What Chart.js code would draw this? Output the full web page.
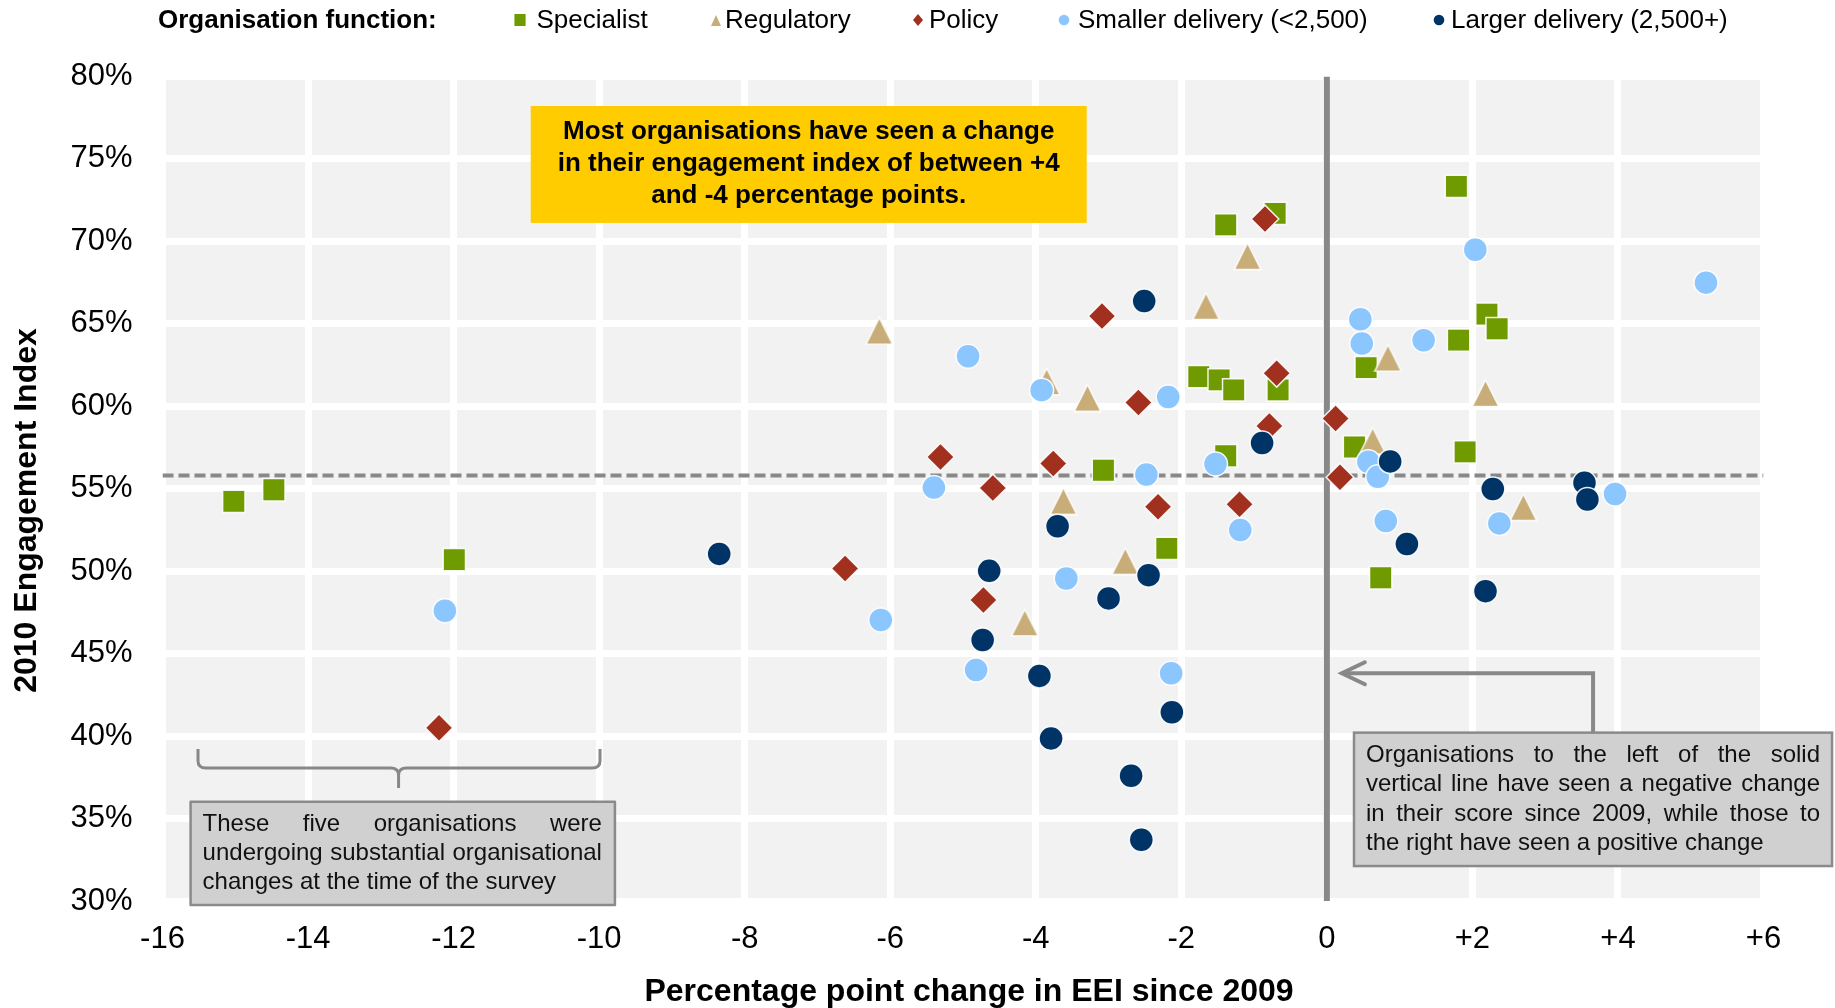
<!DOCTYPE html>
<html>
<head>
<meta charset="utf-8">
<title>2010 Engagement Index vs change since 2009</title>
<script src="https://cdn.jsdelivr.net/npm/chart.js@4.4.1/dist/chart.umd.min.js"></script>
<style>
  html, body { margin: 0; padding: 0; background: #ffffff; }
  canvas { display: block; }
</style>
</head>
<body>
<canvas id="chart" width="1835" height="1008"></canvas>
<script>
// Each organisation: [percentage point change since 2009, 2010 engagement index %]
const specialist = [
  [-15.02, 54.23], [-14.47, 54.94], [-11.99, 50.7], [-1.39, 71.0], [-0.71, 71.7],
  [1.78, 73.34], [-1.76, 61.8], [-1.48, 61.6], [-1.28, 61.0], [-0.67, 61.0],
  [-3.07, 56.12], [-2.2, 51.38], [-1.39, 57.0], [0.38, 57.53], [0.54, 62.35],
  [1.9, 57.24], [2.2, 65.59], [2.34, 64.7], [1.81, 64.01], [0.74, 49.6]
];
const regulatory = [
  [-6.15, 64.57], [-3.85, 61.5], [-3.29, 60.5], [-1.66, 66.07], [-1.09, 69.1],
  [-3.62, 54.25], [-2.77, 50.61], [-4.15, 46.88], [0.84, 62.93], [0.63, 57.9],
  [2.18, 60.79], [2.7, 53.88]
];
const policy = [
  [-3.09, 65.47], [-0.85, 71.36], [-0.69, 62.0], [-2.59, 60.23], [-5.31, 56.93],
  [-3.76, 56.53], [-4.59, 55.05], [-2.32, 53.91], [-1.2, 54.06], [-0.79, 58.8],
  [0.12, 59.26], [0.18, 55.7], [-6.62, 50.16], [-4.72, 48.25], [-12.2, 40.5]
];
const smallerDelivery = [
  [-12.12, 47.6], [-4.93, 63.04], [-3.92, 60.98], [-2.18, 60.56], [-5.4, 55.07],
  [-2.48, 55.86], [-1.53, 56.5], [-1.19, 52.5], [-3.58, 49.56], [-6.13, 47.04],
  [-4.82, 44.01], [-2.14, 43.81], [2.04, 69.49], [5.21, 67.5], [0.46, 65.28],
  [0.48, 63.81], [1.33, 64.01], [0.57, 56.64], [0.7, 55.73], [0.81, 53.04],
  [2.37, 52.9], [3.96, 54.68]
];
const largerDelivery = [
  [-2.51, 66.38], [-0.89, 57.77], [0.87, 56.66], [1.1, 51.65], [2.28, 54.98],
  [3.54, 55.36], [3.58, 54.35], [2.18, 48.79], [-8.35, 51.05], [-3.7, 52.73],
  [-4.64, 50.02], [-2.45, 49.76], [-3.0, 48.35], [-4.73, 45.83], [-3.95, 43.65],
  [-2.13, 41.45], [-3.79, 39.86], [-2.69, 37.6], [-2.55, 33.71]
];

// Civil Service benchmark (dashed line) and axis ranges
const benchmark = 55.8;
const xRange = [-16, 6];
const yRange = [30, 80];

// Text blocks
const legendTitle = 'Organisation function:';
const seriesNames = ['Specialist', 'Regulatory', 'Policy', 'Smaller delivery (<2,500)', 'Larger delivery (2,500+)'];
const xTitle = 'Percentage point change in EEI since 2009';
const yTitle = '2010 Engagement Index';
const calloutLines = [
  'Most organisations have seen a change',
  'in their engagement index of between +4',
  'and -4 percentage points.'
];
const leftNoteLines = [
  'These five organisations were',
  'undergoing substantial organisational',
  'changes at the time of the survey'
];
const rightNoteLines = [
  'Organisations to the left of the solid',
  'vertical line have seen a negative change',
  'in their score since 2009, while those to',
  'the right have seen a positive change'
];

const FAMILY = "'Liberation Sans', Arial, Helvetica, sans-serif";
const COLORS = {
  specialist: '#6f9a00',
  regulatory: '#c8ad78',
  policy: '#a2301f',
  smaller: '#8cc6ff',
  larger: '#003366',
  refLine: '#888888',
  plotBg: '#f2f2f2',
  callout: '#ffcc00',
  noteFill: '#d0d0d0',
  noteStroke: '#8a8a8a'
};

// Isosceles triangle marker, centred in its own box
function triangleMarker(size, fill, stroke, lw) {
  const c = document.createElement('canvas');
  c.width = size; c.height = size;
  const g = c.getContext('2d');
  const p = lw / 2 + 0.5;
  g.beginPath();
  g.moveTo(size / 2, p);
  g.lineTo(size - p, size - p);
  g.lineTo(p, size - p);
  g.closePath();
  g.fillStyle = fill;
  g.fill();
  if (lw > 0) { g.strokeStyle = stroke; g.lineWidth = lw; g.stroke(); }
  return c;
}

const MARKER_EDGE = 'rgba(255,255,255,0.9)';
const triangleStyle = triangleMarker(29, COLORS.regulatory, MARKER_EDGE, 1.5);

function scatterSet(label, pts, color, style, radius, order) {
  return {
    type: 'scatter',
    label,
    data: pts.map(([x, y]) => ({ x, y })),
    pointStyle: style,
    pointRadius: radius,
    pointHoverRadius: radius,
    backgroundColor: color,
    borderColor: MARKER_EDGE,
    borderWidth: 1.5,
    order
  };
}

const datasets = [
  scatterSet(seriesNames[0], specialist, COLORS.specialist, 'rect', 15.8, 5),
  scatterSet(seriesNames[1], regulatory, COLORS.regulatory, triangleStyle, 14.5, 4),
  scatterSet(seriesNames[2], policy, COLORS.policy, 'rectRot', 13.8, 3),
  scatterSet(seriesNames[3], smallerDelivery, COLORS.smaller, 'circle', 12, 2),
  scatterSet(seriesNames[4], largerDelivery, COLORS.larger, 'circle', 12, 1),
  {
    type: 'line', label: 'zero change',
    data: [{ x: 0, y: yRange[0] }, { x: 0, y: yRange[1] }],
    borderColor: COLORS.refLine, borderWidth: 6, pointRadius: 0, fill: false, order: 10
  },
  {
    type: 'line', label: 'benchmark',
    data: [{ x: xRange[0], y: benchmark }, { x: xRange[1], y: benchmark }],
    borderColor: COLORS.refLine, borderWidth: 4, borderDash: [11, 5],
    pointRadius: 0, fill: false, order: 10
  }
];

// Grey plot background behind the white grid
const plotBackground = {
  id: 'plotBackground',
  beforeDraw(chart) {
    const { ctx, chartArea: a } = chart;
    ctx.save();
    ctx.fillStyle = '#ffffff';
    ctx.fillRect(0, 0, chart.width, chart.height);
    ctx.fillStyle = COLORS.plotBg;
    ctx.fillRect(a.left, a.top, a.right - a.left, a.bottom - a.top);
    ctx.restore();
  }
};

function drawJustified(ctx, text, x0, x1, y, justify) {
  if (!justify) { ctx.textAlign = 'left'; ctx.fillText(text, x0, y); return; }
  const words = text.split(' ');
  const widths = words.map(w => ctx.measureText(w).width);
  const total = widths.reduce((s, w) => s + w, 0);
  const gap = (x1 - x0 - total) / (words.length - 1);
  let x = x0;
  ctx.textAlign = 'left';
  words.forEach((w, i) => { ctx.fillText(w, x, y); x += widths[i] + gap; });
}

function noteBox(ctx, l, t, r, b, lines, lineH, padL, padR) {
  ctx.fillStyle = COLORS.noteFill;
  ctx.fillRect(l, t, r - l, b - t);
  ctx.strokeStyle = COLORS.noteStroke;
  ctx.lineWidth = 2.5;
  ctx.strokeRect(l, t, r - l, b - t);
  ctx.fillStyle = '#111111';
  ctx.font = '24px ' + FAMILY;
  ctx.textBaseline = 'middle';
  const cy = (t + b) / 2;
  const y0 = cy - (lines.length - 1) * lineH / 2;
  lines.forEach((s, i) => drawJustified(ctx, s, l + padL, r - padR, y0 + i * lineH, i < lines.length - 1));
}

// Legend, axis titles and notes
const chartDecor = {
  id: 'chartDecor',
  afterDraw(chart) {
    const { ctx, scales: { x, y } } = chart;
    const X = v => x.getPixelForValue(v);
    const Y = v => y.getPixelForValue(v);
    ctx.save();

    // Legend row
    ctx.textBaseline = 'middle';
    ctx.fillStyle = '#000000';
    ctx.font = 'bold 26px ' + FAMILY;
    ctx.textAlign = 'left';
    ctx.fillText(legendTitle, 158, 20.5);
    ctx.font = '26px ' + FAMILY;
    const legendItems = [
      { marker: 520, text: 536.5, color: COLORS.specialist, shape: 'square' },
      { marker: 716, text: 725, color: COLORS.regulatory, shape: 'triangle' },
      { marker: 918, text: 929, color: COLORS.policy, shape: 'diamond' },
      { marker: 1064, text: 1078, color: COLORS.smaller, shape: 'circle' },
      { marker: 1439, text: 1451, color: COLORS.larger, shape: 'circle' }
    ];
    legendItems.forEach((it, i) => {
      const cy = 20;
      ctx.fillStyle = it.color;
      ctx.beginPath();
      if (it.shape === 'square') ctx.rect(it.marker - 5.6, cy - 6, 11.2, 12);
      else if (it.shape === 'triangle') { ctx.moveTo(it.marker, cy - 5); ctx.lineTo(it.marker + 5, cy + 6); ctx.lineTo(it.marker - 5, cy + 6); ctx.closePath(); }
      else if (it.shape === 'diamond') { ctx.moveTo(it.marker, cy - 6); ctx.lineTo(it.marker + 5, cy); ctx.lineTo(it.marker, cy + 6); ctx.lineTo(it.marker - 5, cy); ctx.closePath(); }
      else ctx.arc(it.marker, cy, 5.3, 0, Math.PI * 2);
      ctx.fill();
      ctx.fillStyle = '#000000';
      ctx.fillText(seriesNames[i], it.text, 20.5);
    });

    // Axis titles
    ctx.font = 'bold 32px ' + FAMILY;
    ctx.textAlign = 'center';
    ctx.fillText(xTitle, 969, 992);
    ctx.save();
    ctx.translate(27.5, 510.5);
    ctx.rotate(-Math.PI / 2);
    ctx.fillText(yTitle, 0, 0);
    ctx.restore();

    // Yellow callout
    const cl = X(-10.94), cr = X(-3.30), ct = Y(78.21), cb = Y(71.12);
    ctx.fillStyle = COLORS.callout;
    ctx.fillRect(cl, ct, cr - cl, cb - ct);
    ctx.fillStyle = '#000000';
    ctx.font = 'bold 26px ' + FAMILY;
    ctx.textAlign = 'center';
    const ccx = (cl + cr) / 2, ccy = (ct + cb) / 2 - 0.5;
    calloutLines.forEach((s, i) => ctx.fillText(s, ccx, ccy + (i - 1) * 31.7));

    // Brace over the five outlying organisations
    const bl = X(-15.512), br = X(-9.988), bm = X(-12.756);
    const bt = Y(39.22), bh = Y(38.07), bc = Y(36.86);
    ctx.strokeStyle = COLORS.refLine;
    ctx.lineWidth = 3;
    ctx.lineJoin = 'round';
    ctx.beginPath();
    ctx.moveTo(bl, bt);
    ctx.lineTo(bl, bh - 7);
    ctx.quadraticCurveTo(bl, bh, bl + 8, bh);
    ctx.lineTo(bm - 8, bh);
    ctx.quadraticCurveTo(bm, bh, bm, bh + 7);
    ctx.lineTo(bm, bc);
    ctx.moveTo(bm, bh + 7);
    ctx.quadraticCurveTo(bm, bh, bm + 8, bh);
    ctx.lineTo(br - 8, bh);
    ctx.quadraticCurveTo(br, bh, br, bh - 7);
    ctx.lineTo(br, bt);
    ctx.stroke();

    // Left note
    noteBox(ctx, X(-15.614), Y(36.02), X(-9.783), Y(29.76), leftNoteLines, 28.7, 12, 13);

    // Elbow arrow pointing at the zero line
    const ax = X(3.658), ay0 = Y(40.21), ay = Y(43.81), tipX = X(0.206);
    ctx.strokeStyle = COLORS.refLine;
    ctx.lineWidth = 4;
    ctx.lineJoin = 'miter';
    ctx.lineCap = 'butt';
    ctx.beginPath();
    ctx.moveTo(ax, ay0);
    ctx.lineTo(ax, ay);
    ctx.lineTo(tipX + 2, ay);
    ctx.stroke();
    ctx.lineCap = 'round';
    ctx.beginPath();
    ctx.moveTo(tipX + 23, ay - 11);
    ctx.lineTo(tipX, ay);
    ctx.lineTo(tipX + 23, ay + 11);
    ctx.stroke();

    // Right note
    noteBox(ctx, X(0.373), Y(40.21), X(6.942), Y(32.12), rightNoteLines, 29.1, 12, 12);

    ctx.restore();
  }
};

new Chart(document.getElementById('chart'), {
  type: 'scatter',
  data: { datasets },
  options: {
    responsive: false,
    animation: false,
    events: [],
    layout: { padding: { top: 76.5, right: 71.5, bottom: 0, left: 0 } },
    plugins: {
      legend: { display: false },
      tooltip: { enabled: false },
      title: { display: false }
    },
    scales: {
      x: {
        type: 'linear',
        min: xRange[0], max: xRange[1],
        grid: { color: '#ffffff', lineWidth: 7, drawTicks: false },
        border: { display: false },
        ticks: {
          stepSize: 2,
          padding: 20,
          color: '#000000',
          font: { family: FAMILY, size: 31 },
          callback: v => (v > 0 ? '+' + v : String(v))
        },
        afterFit: s => { s.height = 107; }
      },
      y: {
        type: 'linear',
        min: yRange[0], max: yRange[1],
        grid: { color: '#ffffff', lineWidth: 7, drawTicks: false },
        border: { display: false },
        ticks: {
          stepSize: 5,
          padding: 30,
          color: '#000000',
          font: { family: FAMILY, size: 31 },
          callback: v => v + '%'
        },
        afterFit: s => { s.width = 162.5; }
      }
    }
  },
  plugins: [plotBackground, chartDecor]
});
</script>
</body>
</html>
